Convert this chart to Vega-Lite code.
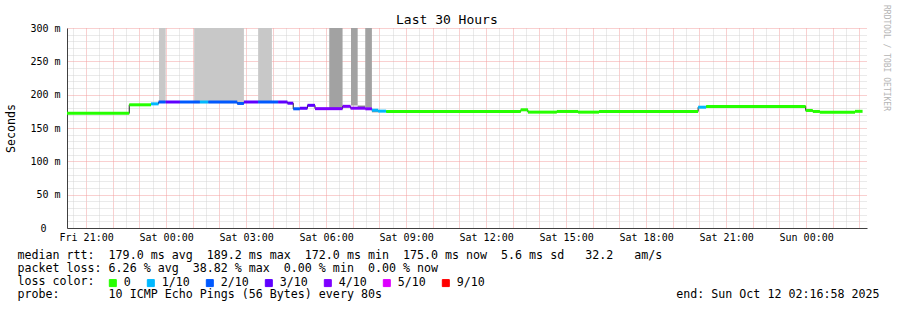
{
  "$schema": "https://vega.github.io/schema/vega-lite/v6.json",
  "width": 800,
  "height": 200,
  "autosize": {"type": "none"},
  "padding": {"left": 67, "top": 28, "right": 30, "bottom": 82},
  "background": "white",
  "title": {"text": "RRDTOOL / TOBI OETIKER", "orient": "right", "anchor": "start", "frame": "group", "font": "DejaVu Sans Mono", "fontSize": 8, "fontWeight": "normal", "color": "#b4b4b4", "baseline": "middle", "offset": -1, "dx": -23},
  "config": {"view": {"stroke": null}},
  "datasets": {
    "rtt": [
      {"start": "2025-10-10T20:17:00Z", "end": "2025-10-10T22:37:00Z", "rtt": 172.0, "loss": "0"},
      {"start": "2025-10-10T22:37:00Z", "end": "2025-10-10T23:26:00Z", "rtt": 184.8, "loss": "0"},
      {"start": "2025-10-10T23:26:00Z", "end": "2025-10-10T23:43:00Z", "rtt": 186.2, "loss": "1/10"},
      {"start": "2025-10-10T23:43:00Z", "end": "2025-10-10T23:59:00Z", "rtt": 189.0, "loss": "2/10"},
      {"start": "2025-10-10T23:59:00Z", "end": "2025-10-11T00:31:00Z", "rtt": 189.0, "loss": "3/10"},
      {"start": "2025-10-11T00:31:00Z", "end": "2025-10-11T01:16:00Z", "rtt": 189.0, "loss": "2/10"},
      {"start": "2025-10-11T01:16:00Z", "end": "2025-10-11T01:35:00Z", "rtt": 189.0, "loss": "1/10"},
      {"start": "2025-10-11T01:35:00Z", "end": "2025-10-11T02:40:00Z", "rtt": 189.0, "loss": "2/10"},
      {"start": "2025-10-11T02:40:00Z", "end": "2025-10-11T02:55:00Z", "rtt": 186.8, "loss": "2/10"},
      {"start": "2025-10-11T02:55:00Z", "end": "2025-10-11T03:27:00Z", "rtt": 189.0, "loss": "3/10"},
      {"start": "2025-10-11T03:27:00Z", "end": "2025-10-11T04:12:00Z", "rtt": 189.0, "loss": "2/10"},
      {"start": "2025-10-11T04:12:00Z", "end": "2025-10-11T04:33:00Z", "rtt": 189.0, "loss": "3/10"},
      {"start": "2025-10-11T04:33:00Z", "end": "2025-10-11T04:46:00Z", "rtt": 187.2, "loss": "3/10"},
      {"start": "2025-10-11T04:46:00Z", "end": "2025-10-11T05:01:00Z", "rtt": 178.8, "loss": "2/10"},
      {"start": "2025-10-11T05:01:00Z", "end": "2025-10-11T05:18:00Z", "rtt": 179.6, "loss": "3/10"},
      {"start": "2025-10-11T05:18:00Z", "end": "2025-10-11T05:35:00Z", "rtt": 184.0, "loss": "3/10"},
      {"start": "2025-10-11T05:35:00Z", "end": "2025-10-11T06:37:00Z", "rtt": 179.0, "loss": "4/10"},
      {"start": "2025-10-11T06:37:00Z", "end": "2025-10-11T06:55:00Z", "rtt": 182.5, "loss": "4/10"},
      {"start": "2025-10-11T06:55:00Z", "end": "2025-10-11T07:28:00Z", "rtt": 179.7, "loss": "4/10"},
      {"start": "2025-10-11T07:28:00Z", "end": "2025-10-11T07:43:00Z", "rtt": 178.8, "loss": "4/10"},
      {"start": "2025-10-11T07:43:00Z", "end": "2025-10-11T07:57:00Z", "rtt": 176.7, "loss": "1/10"},
      {"start": "2025-10-11T07:57:00Z", "end": "2025-10-11T08:15:00Z", "rtt": 175.3, "loss": "1/10"},
      {"start": "2025-10-11T08:15:00Z", "end": "2025-10-11T13:18:00Z", "rtt": 174.8, "loss": "0"},
      {"start": "2025-10-11T13:18:00Z", "end": "2025-10-11T13:34:00Z", "rtt": 177.3, "loss": "0"},
      {"start": "2025-10-11T13:34:00Z", "end": "2025-10-11T14:39:00Z", "rtt": 173.8, "loss": "0"},
      {"start": "2025-10-11T14:39:00Z", "end": "2025-10-11T15:27:00Z", "rtt": 174.8, "loss": "0"},
      {"start": "2025-10-11T15:27:00Z", "end": "2025-10-11T16:14:00Z", "rtt": 173.8, "loss": "0"},
      {"start": "2025-10-11T16:14:00Z", "end": "2025-10-11T19:57:00Z", "rtt": 174.8, "loss": "0"},
      {"start": "2025-10-11T19:57:00Z", "end": "2025-10-11T20:15:00Z", "rtt": 181.2, "loss": "1/10"},
      {"start": "2025-10-11T20:15:00Z", "end": "2025-10-11T23:59:00Z", "rtt": 182.3, "loss": "0"},
      {"start": "2025-10-11T23:59:00Z", "end": "2025-10-12T00:15:00Z", "rtt": 176.3, "loss": "0"},
      {"start": "2025-10-12T00:15:00Z", "end": "2025-10-12T00:31:00Z", "rtt": 174.8, "loss": "0"},
      {"start": "2025-10-12T00:31:00Z", "end": "2025-10-12T01:50:00Z", "rtt": 173.8, "loss": "0"},
      {"start": "2025-10-12T01:50:00Z", "end": "2025-10-12T02:07:00Z", "rtt": 175.0, "loss": "0"}
    ],
    "smoke": [
      {"start": "2025-10-10T23:44:00Z", "end": "2025-10-10T23:59:00Z", "rtt": 189, "high": 300, "shade": "light"},
      {"start": "2025-10-11T01:03:00Z", "end": "2025-10-11T02:55:00Z", "rtt": 187, "high": 300, "shade": "light"},
      {"start": "2025-10-11T03:27:00Z", "end": "2025-10-11T03:58:00Z", "rtt": 189, "high": 300, "shade": "light"},
      {"start": "2025-10-11T06:07:00Z", "end": "2025-10-11T06:37:00Z", "rtt": 180, "high": 300, "shade": "dark"},
      {"start": "2025-10-11T06:56:00Z", "end": "2025-10-11T07:11:00Z", "rtt": 183.7, "high": 300, "shade": "dark"},
      {"start": "2025-10-11T07:11:00Z", "end": "2025-10-11T07:28:00Z", "rtt": 181.5, "high": 183.7, "shade": "mid"},
      {"start": "2025-10-11T07:28:00Z", "end": "2025-10-11T07:43:00Z", "rtt": 180.5, "high": 300, "shade": "dark"},
      {"start": "2025-10-11T07:43:00Z", "end": "2025-10-11T07:57:00Z", "rtt": 173.5, "high": 176, "shade": "mid"}
    ]
  },
  "encoding": {
    "x": {
      "field": "start", "type": "temporal",
      "scale": {"type": "utc", "domain": [
        {"year": 2025, "month": 10, "date": 10, "hours": 20, "minutes": 16, "seconds": 58, "utc": true},
        {"year": 2025, "month": 10, "date": 12, "hours": 2, "minutes": 16, "seconds": 58, "utc": true}
      ]},
      "axis": {
        "orient": "bottom",
        "values": [1760128200000, 1760130000000, 1760131800000, 1760133600000, 1760135400000, 1760137200000, 1760139000000, 1760140800000, 1760142600000, 1760144400000, 1760146200000, 1760148000000, 1760149800000, 1760151600000, 1760153400000, 1760155200000, 1760157000000, 1760158800000, 1760160600000, 1760162400000, 1760164200000, 1760166000000, 1760167800000, 1760169600000, 1760171400000, 1760173200000, 1760175000000, 1760176800000, 1760178600000, 1760180400000, 1760182200000, 1760184000000, 1760185800000, 1760187600000, 1760189400000, 1760191200000, 1760193000000, 1760194800000, 1760196600000, 1760198400000, 1760200200000, 1760202000000, 1760203800000, 1760205600000, 1760207400000, 1760209200000, 1760211000000, 1760212800000, 1760214600000, 1760216400000, 1760218200000, 1760220000000, 1760221800000, 1760223600000, 1760225400000, 1760227200000, 1760229000000, 1760230800000, 1760232600000, 1760234400000],
        "grid": true,
        "gridColor": {"condition": {"test": "utcminutes(datum.value) === 0", "value": "#f2a0a0"}, "value": "#d4d4d4"},
        "gridDash": [1, 1],
        "gridWidth": 1,
        "ticks": false,
        "tickSize": 0,
        "domain": true,
        "domainColor": "#404040",
        "labelExpr": "utcminutes(datum.value) === 0 && utchours(datum.value) % 3 === 0 ? utcFormat(datum.value, '%a %H:%M') : ''",
        "labelFont": "DejaVu Sans Mono",
        "labelFontSize": 10,
        "labelColor": "black",
        "labelOverlap": false,
        "labelFlush": false,
        "labelBound": false,
        "labelBaseline": "alphabetic",
        "labelPadding": 12.5,
        "title": [
          "median rtt:\u00a0\u00a0179.0 ms avg\u00a0\u00a0189.2 ms max\u00a0\u00a0172.0 ms min\u00a0\u00a0175.0 ms now\u00a0\u00a05.6 ms sd\u00a0\u00a0\u00a032.2\u00a0\u00a0\u00a0am/s",
          "packet loss: 6.26 % avg\u00a0\u00a038.82 % max\u00a0\u00a00.00 % min\u00a0\u00a00.00 % now",
          "loss color:",
          "probe:\u00a0\u00a0\u00a0\u00a0\u00a0\u00a0\u00a010 ICMP Echo Pings (56 Bytes) every 80s\u00a0\u00a0\u00a0\u00a0\u00a0\u00a0\u00a0\u00a0\u00a0\u00a0\u00a0\u00a0\u00a0\u00a0\u00a0\u00a0\u00a0\u00a0\u00a0\u00a0\u00a0\u00a0\u00a0\u00a0\u00a0\u00a0\u00a0\u00a0\u00a0\u00a0\u00a0\u00a0\u00a0\u00a0\u00a0\u00a0\u00a0\u00a0\u00a0\u00a0\u00a0\u00a0end: Sun Oct 12 02:16:58 2025"
        ],
        "titleFont": "DejaVu Sans Mono",
        "titleFontSize": 11.65,
        "titleFontWeight": "normal",
        "titleColor": "black",
        "titleAnchor": "start",
        "titleAlign": "left",
        "titleBaseline": "alphabetic",
        "titleX": -50,
        "titleY": 30,
        "titleLineHeight": 13.3
      }
    },
    "y": {
      "field": "rtt", "type": "quantitative",
      "scale": {"domain": [0, 300], "nice": false, "zero": true},
      "axis": {
        "orient": "left",
        "values": [0, 10, 20, 30, 40, 50, 60, 70, 80, 90, 100, 110, 120, 130, 140, 150, 160, 170, 180, 190, 200, 210, 220, 230, 240, 250, 260, 270, 280, 290, 300],
        "grid": true,
        "gridColor": {"condition": {"test": "datum.value % 50 === 0", "value": "#f2a0a0"}, "value": "#d4d4d4"},
        "gridDash": [1, 1],
        "ticks": false,
        "tickSize": 0,
        "domain": true,
        "domainColor": "#404040",
        "labelExpr": "datum.value % 50 === 0 ? (datum.value === 0 ? '0\u2800\u2800' : datum.value + ' m') : ''",
        "labelFont": "DejaVu Sans Mono",
        "labelFontSize": 10,
        "labelColor": "black",
        "labelPadding": 7,
        "labelOverlap": false,
        "labelFlush": false,
        "labelBound": false,
        "title": "Seconds",
        "titleFont": "DejaVu Sans Mono",
        "titleFontSize": 11.65,
        "titleFontWeight": "normal",
        "titleColor": "black",
        "titleX": -56,
        "titleY": 100,
        "titleAngle": -90,
        "titleAlign": "center",
        "titleBaseline": "middle"
      }
    }
  },
  "layer": [
    {
      "data": {"name": "smoke"},
      "mark": {"type": "rect", "clip": true},
      "encoding": {
        "x2": {"field": "end"},
        "y2": {"field": "high"},
        "fill": {
          "field": "shade", "type": "nominal",
          "scale": {"domain": ["light", "mid", "dark"], "range": ["#c8c8c8", "#8e8e8e", "#a2a2a2"]},
          "legend": {
            "orient": "none",
            "legendX": 329,
            "legendY": -14.3,
            "direction": "horizontal",
            "padding": 0,
            "title": "Last 30 Hours",
            "titleFont": "DejaVu Sans Mono",
            "titleFontSize": 13,
            "titleFontWeight": "normal",
            "titleColor": "black",
            "titlePadding": 0,
            "labelFontSize": 1,
            "symbolSize": 1,
            "encode": {"symbols": {"update": {"opacity": {"value": 0}}}, "labels": {"update": {"opacity": {"value": 0}}}}
          }
        }
      }
    },
    {
      "data": {"name": "rtt"},
      "mark": {"type": "line", "interpolate": "step-after", "color": "#202020", "strokeWidth": 1},
      "encoding": {}
    },
    {
      "data": {"name": "rtt"},
      "mark": {"type": "rule", "strokeWidth": 3, "strokeCap": "butt"},
      "encoding": {
        "x2": {"field": "end"},
        "color": {
          "field": "loss", "type": "nominal",
          "scale": {"domain": ["0", "1/10", "2/10", "3/10", "4/10", "5/10", "9/10"], "range": ["#26ff00", "#00b8ff", "#0059ff", "#5e00ff", "#7e00ff", "#dd00ff", "#ff0000"]},
          "legend": {
            "orient": "none",
            "legendX": 40,
            "legendY": 249,
            "direction": "horizontal",
            "padding": 0,
            "title": null,
            "labelFont": "DejaVu Sans Mono",
            "labelFontSize": 11.65,
            "labelColor": "black",
            "labelOffset": 5,
            "columnPadding": 14,
            "symbolType": "square",
            "symbolSize": 49,
            "symbolStrokeWidth": 1,
            "encode": {"symbols": {"update": {"fill": {"scale": "color", "field": "value"}, "stroke": {"value": "black"}, "strokeWidth": {"value": 1}, "opacity": {"value": 1}}}}
          }
        }
      }
    }
  ]
}
